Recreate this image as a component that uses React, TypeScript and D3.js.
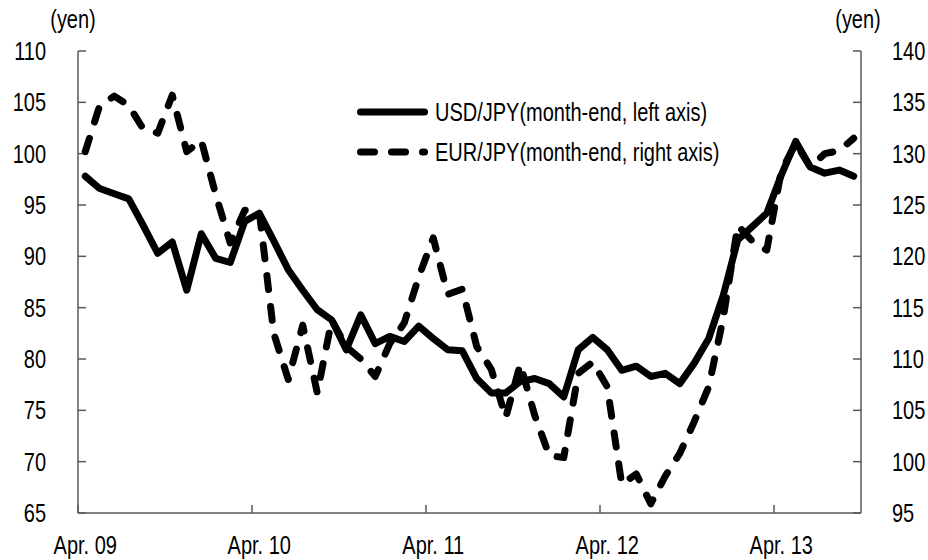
import React from "react";
import * as d3 from "d3";

// month-end observations, Apr. 09 .. Sep. 13
const months = [
  "Apr. 09", "May 09", "Jun. 09", "Jul. 09", "Aug. 09", "Sep. 09", "Oct. 09", "Nov. 09", "Dec. 09",
  "Jan. 10", "Feb. 10", "Mar. 10", "Apr. 10", "May 10", "Jun. 10", "Jul. 10", "Aug. 10", "Sep. 10",
  "Oct. 10", "Nov. 10", "Dec. 10", "Jan. 11", "Feb. 11", "Mar. 11", "Apr. 11", "May 11", "Jun. 11",
  "Jul. 11", "Aug. 11", "Sep. 11", "Oct. 11", "Nov. 11", "Dec. 11", "Jan. 12", "Feb. 12", "Mar. 12",
  "Apr. 12", "May 12", "Jun. 12", "Jul. 12", "Aug. 12", "Sep. 12", "Oct. 12", "Nov. 12", "Dec. 12",
  "Jan. 13", "Feb. 13", "Mar. 13", "Apr. 13", "May 13", "Jun. 13", "Jul. 13", "Aug. 13", "Sep. 13",
];

const usdJpy = [
  97.8, 96.6, 96.1, 95.6, 93.0, 90.3, 91.4, 86.7, 92.2,
  89.8, 89.4, 93.4, 94.2, 91.5, 88.7, 86.7, 84.8, 83.8,
  80.9, 84.3, 81.5, 82.2, 81.7, 83.2, 82.0, 80.9, 80.8,
  78.1, 76.7, 76.7, 77.8, 78.1, 77.6, 76.3, 80.9, 82.1,
  80.9, 78.9, 79.3, 78.3, 78.6, 77.6, 79.6, 82.0, 86.2,
  91.6, 92.9, 94.2, 97.9, 101.2, 98.7, 98.1, 98.4, 97.8,
];

const eurJpy = [
  130.2, 134.7, 135.6, 134.7, 132.4, 132.0, 135.7, 130.2, 131.3,
  126.0, 121.3, 124.5, 124.4, 112.5, 108.0, 113.3, 106.7, 113.8,
  111.2, 110.0, 108.3, 111.5, 113.5, 118.0, 121.8, 116.3, 116.8,
  111.2, 109.0, 104.3, 109.5, 104.5, 100.6, 100.4, 108.6, 109.7,
  107.3, 97.8, 98.8, 95.9, 98.6, 100.8, 103.9, 107.3, 114.0,
  123.0, 121.5, 120.6, 128.3, 131.0, 128.7, 130.0, 130.3, 131.5,
];

const xTickLabels = ["Apr. 09", "Apr. 10", "Apr. 11", "Apr. 12", "Apr. 13"];
const leftTicks = [65, 70, 75, 80, 85, 90, 95, 100, 105, 110];
const rightTicks = [95, 100, 105, 110, 115, 120, 125, 130, 135, 140];

const FONT = "'Liberation Sans', Arial, sans-serif";
const AXIS = "#595959";

// the original uses a condensed face, so squeeze a regular one horizontally
const Narrow = ({ x, y, anchor = "start", children }: any) => (
  <text
    transform={`translate(${x},${y}) scale(0.8,1)`}
    fontSize={25}
    textAnchor={anchor}
  >
    {children}
  </text>
);

export default function App() {
  const left = 78, right = 861, top = 51, bottom = 513;

  const x = d3.scaleBand<string>().domain(months).range([left, right]).padding(0);
  const yL = d3.scaleLinear().domain([65, 110]).range([bottom, top]);
  const yR = d3.scaleLinear().domain([95, 140]).range([bottom, top]);
  const cx = (i: number) => (x(months[i]) as number) + x.bandwidth() / 2;

  const usdLine = d3.line<number>().x((_, i) => cx(i)).y((d) => yL(d));
  const eurLine = d3.line<number>().x((_, i) => cx(i)).y((d) => yR(d));

  const lineStyle = {
    fill: "none",
    stroke: "#000",
    strokeWidth: 7,
    strokeLinejoin: "round" as const,
    strokeLinecap: "round" as const,
  };

  return (
    <svg width={928} height={560} style={{ position: "absolute", left: 0, top: 0 }} fontFamily={FONT}>
      <rect width={928} height={560} fill="#fff" />

      {/* axes */}
      <line x1={left} x2={left} y1={top} y2={bottom} stroke={AXIS} strokeWidth={1.5} />
      <line x1={right} x2={right} y1={top} y2={bottom} stroke={AXIS} strokeWidth={1.5} />
      <line x1={left} x2={right} y1={bottom} y2={bottom} stroke={AXIS} strokeWidth={1.5} />

      {leftTicks.map((t) => (
        <g key={"l" + t}>
          <line x1={left} x2={left + 8} y1={yL(t)} y2={yL(t)} stroke={AXIS} strokeWidth={1.5} />
          <Narrow x={46} y={yL(t) + 9} anchor="end">{t}</Narrow>
        </g>
      ))}
      {rightTicks.map((t) => (
        <g key={"r" + t}>
          <line x1={right - 8} x2={right} y1={yR(t)} y2={yR(t)} stroke={AXIS} strokeWidth={1.5} />
          <Narrow x={892} y={yR(t) + 9}>{t}</Narrow>
        </g>
      ))}
      {xTickLabels.map((t) => {
        const bx = x(t) as number;
        return (
          <g key={t}>
            <line x1={bx} x2={bx} y1={bottom} y2={bottom - 8} stroke={AXIS} strokeWidth={1.5} />
            <Narrow x={bx + x.bandwidth() / 2} y={554} anchor="middle">{t}</Narrow>
          </g>
        );
      })}

      <Narrow x={73} y={28} anchor="middle">(yen)</Narrow>
      <Narrow x={858} y={28} anchor="middle">(yen)</Narrow>

      {/* series */}
      <path d={eurLine(eurJpy) ?? ""} {...lineStyle} strokeDasharray="14 17" />
      <path d={usdLine(usdJpy) ?? ""} {...lineStyle} />

      {/* legend */}
      <line x1={360.5} x2={424.5} y1={112} y2={112} {...lineStyle} />
      <Narrow x={435} y={121}>USD/JPY(month-end, left axis)</Narrow>
      <line x1={360.5} x2={424.5} y1={152} y2={152} {...lineStyle} strokeDasharray="14 17" />
      <Narrow x={435} y={161}>EUR/JPY(month-end, right axis)</Narrow>
    </svg>
  );
}
